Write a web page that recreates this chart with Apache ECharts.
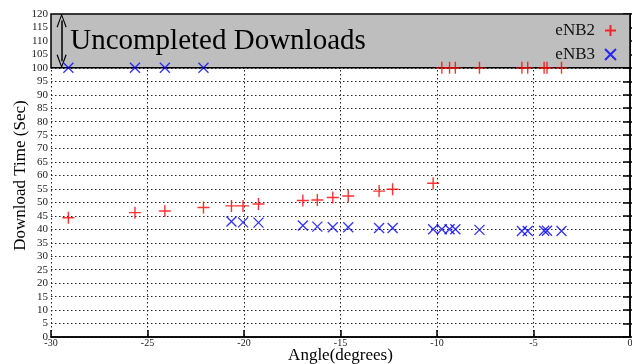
<!DOCTYPE html>
<html>
<head>
<meta charset="utf-8">
<script src="https://cdn.jsdelivr.net/npm/echarts@6/dist/echarts.min.js"></script>
<style>
  html, body { margin: 0; padding: 0; background: #fff; }
  #chart { width: 632px; height: 364px; }
</style>
</head>
<body>
<div id="chart"></div>
<script>
// angles (deg) shared by both series
var angles = [-29.1, -25.65, -24.1, -22.1, -20.65, -20.05, -19.25, -16.95, -16.2, -15.4, -14.6, -13.0, -12.3,
              -10.2, -9.75, -9.35, -9.05, -7.8, -5.6, -5.3, -4.45, -4.3, -3.55];
// download time (sec), 100 = uncompleted
var enb2 = [44.3, 46.2, 46.8, 48.1, 48.7, 48.7, 49.4, 50.7, 50.9, 51.8, 52.4, 54.2, 54.9,
            57.1, 100, 100, 100, 100, 100, 100, 100, 100, 100];
var enb3 = [100, 100, 100, 100, 42.9, 42.6, 42.5, 41.4, 41.0, 40.8, 40.8, 40.5, 40.5,
            40.0, 40.0, 40.0, 40.0, 39.8, 39.4, 39.4, 39.5, 39.5, 39.4];
var xTicks = [-30, -25, -20, -15, -10, -5, 0];
var yMax = 120, failLevel = 100;

var serif = 'Liberation Serif';
var plus = 'path://M0,5L10,5M5,0L5,10';
var cross = 'path://M0,0L10,10M10,0L0,10';
var chevron = 'path://M5,0L10,10L9,10.6L5,2.2L1,10.6L0,10Z';

function pairs(ys) {
  return angles.map(function (a, i) { return [a, ys[i]]; });
}

var myChart = echarts.init(document.getElementById('chart'));

var gridLine = { show: true, lineStyle: { color: '#222', type: [1.5, 2.5], width: 1 } };

var option = {
  animation: false,
  grid: { left: 51, right: 2, top: 14, bottom: 27, outerBoundsMode: 'none', containLabel: false },
  legend: {
    orient: 'vertical', right: 15, top: 22, align: 'right', padding: 0,
    itemWidth: 11, itemHeight: 11, itemGap: 7,
    textStyle: { fontFamily: serif, fontSize: 17, color: '#111', lineHeight: 13, padding: [0, 5, 0, 0] },
    data: ['eNB2', 'eNB3']
  },
  xAxis: [{
    type: 'value', min: xTicks[0], max: xTicks[xTicks.length - 1], interval: 5,
    name: 'Angle(degrees)', nameLocation: 'middle', nameGap: 10, nameMoveOverlap: false,
    nameTextStyle: { fontFamily: serif, fontSize: 17, color: '#000' },
    axisLine: { lineStyle: { color: '#000', width: 1.5 } },
    axisTick: { inside: true, length: 7, lineStyle: { color: '#000', width: 1.5 } },
    axisLabel: { fontFamily: serif, fontSize: 10, color: '#222', margin: 1 },
    splitLine: gridLine
  }, {
    type: 'value', position: 'top', min: -30, max: 0, interval: 5,
    axisLine: { lineStyle: { color: '#000', width: 1.5 } },
    axisTick: { show: false }, axisLabel: { show: false }, splitLine: { show: false }
  }],
  yAxis: [{
    type: 'value', min: 0, max: yMax, interval: 5,
    name: 'Download Time (Sec)', nameLocation: 'middle', nameGap: 22, nameMoveOverlap: false,
    nameTextStyle: { fontFamily: serif, fontSize: 17, color: '#000' },
    axisLine: { lineStyle: { color: '#000', width: 1.5 } },
    axisTick: { inside: true, length: 7, lineStyle: { color: '#000', width: 1.5 } },
    axisLabel: { fontFamily: serif, fontSize: 11, color: '#222', margin: 3 },
    splitLine: gridLine
  }, {
    type: 'value', position: 'right', min: 0, max: yMax, interval: 5,
    axisLine: { lineStyle: { color: '#000', width: 1.5 } },
    axisTick: { inside: true, length: 7, lineStyle: { color: '#000', width: 1.5 } },
    axisLabel: { show: false }, splitLine: { show: false }
  }],
  series: [{
    name: 'eNB2', type: 'scatter', z: 5,
    symbol: plus, symbolSize: 12,
    itemStyle: { color: 'rgba(0,0,0,0)', borderColor: '#ff0000', borderWidth: 1.4 },
    data: pairs(enb2),
    markArea: {
      silent: true,
      itemStyle: { color: '#bebebe', borderColor: '#000', borderWidth: 1.5 },
      label: {
        show: true, position: 'insideLeft', distance: 20,
        fontFamily: serif, fontSize: 29, color: '#000',
        formatter: 'Uncompleted Downloads'
      },
      data: [[{ coord: [-30, failLevel] }, { coord: [0, yMax] }]]
    },
    markLine: {
      silent: true, symbol: [chevron, chevron], symbolSize: [10, 14],
      lineStyle: { color: '#000', width: 1.5, type: 'solid' },
      label: { show: false },
      data: [[{ coord: [-29.45, failLevel + 2.4] }, { coord: [-29.45, yMax - 2.4] }]]
    }
  }, {
    name: 'eNB3', type: 'scatter', z: 5,
    symbol: cross, symbolSize: 10,
    itemStyle: { color: 'rgba(0,0,0,0)', borderColor: '#0000ff', borderWidth: 1.3 },
    data: pairs(enb3)
  }]
};

myChart.setOption(option);
</script>
</body>
</html>
